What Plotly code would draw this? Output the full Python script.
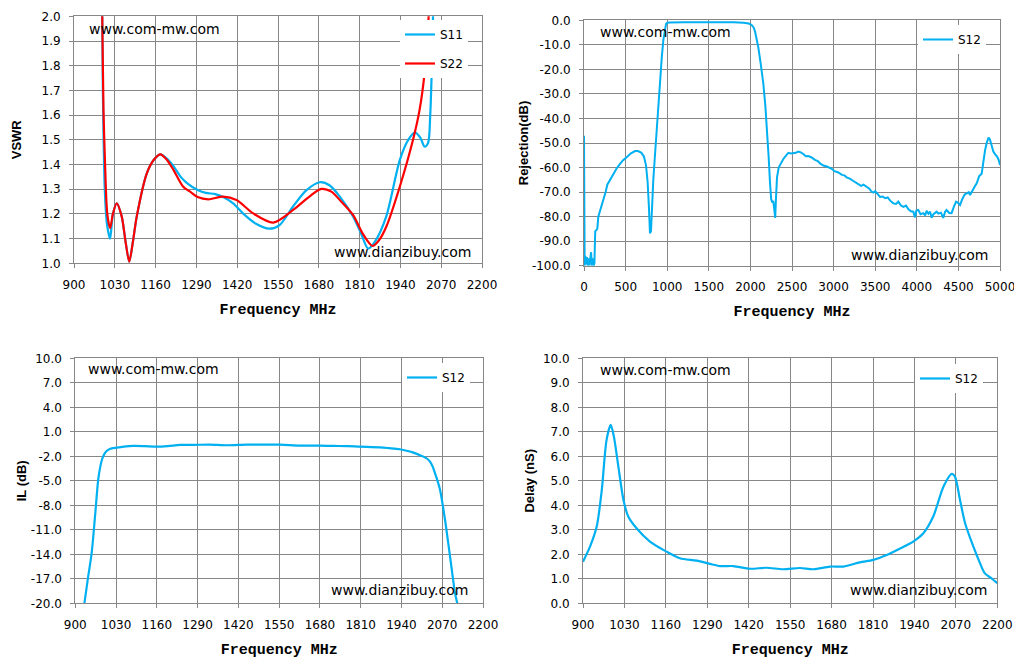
import plotly.graph_objects as go

# ---------------- data ----------------
# VSWR (top-left)
vswr_s11_freq = [988, 992, 998, 1005, 1015, 1024, 1036, 1052, 1064, 1076, 1088, 1100, 1132, 1155, 1175,
                 1195, 1216, 1240, 1260, 1294, 1320, 1350, 1375, 1407, 1440, 1480, 1522, 1555, 1598, 1640,
                 1683, 1715, 1747, 1789, 1815, 1837, 1860, 1895, 1938, 1965, 1986, 2003, 2017, 2028, 2035,
                 2039, 2044, 2050]
vswr_s11 = [2.3, 1.7, 1.3, 1.16, 1.10, 1.2, 1.243, 1.19, 1.09, 1.007, 1.09, 1.19, 1.364, 1.42, 1.441,
            1.425, 1.395, 1.35, 1.325, 1.297, 1.285, 1.28, 1.268, 1.243, 1.20, 1.16, 1.14, 1.155, 1.23, 1.295,
            1.328, 1.315, 1.27, 1.19, 1.12, 1.06, 1.09, 1.19, 1.418, 1.50, 1.529, 1.51, 1.472, 1.486, 1.60,
            1.742, 2.0, 2.3]
vswr_s22_freq = [986, 990, 994, 999, 1006, 1015, 1024, 1036, 1052, 1064, 1076, 1088, 1100, 1132, 1155,
                 1175, 1195, 1216, 1248, 1270, 1294, 1328, 1375, 1418, 1471, 1535, 1598, 1650, 1688, 1720,
                 1747, 1789, 1820, 1851, 1870, 1895, 1938, 1980, 2001, 2017, 2030, 2036]
vswr_s22 = [2.3, 2.0, 1.62, 1.4, 1.2, 1.142, 1.2, 1.243, 1.19, 1.09, 1.007, 1.09, 1.19, 1.364, 1.42,
            1.441, 1.42, 1.38, 1.31, 1.29, 1.268, 1.259, 1.27, 1.256, 1.202, 1.165, 1.216, 1.27, 1.301, 1.29,
            1.256, 1.196, 1.12, 1.07, 1.09, 1.148, 1.31, 1.499, 1.62, 1.77, 2.0, 2.2]

# Rejection (top-right)
rej_freq = [0, 8, 15, 25, 35, 45, 55, 65, 75, 85, 95, 105, 115, 125, 135, 150, 160, 172, 200, 232, 260,
            280, 312, 350, 390, 433, 470, 513, 560, 613, 650, 690, 720, 745, 765, 780, 793, 805, 815, 833,
            853, 873, 893, 913, 935, 954, 970, 986, 1000, 1034, 1200, 1514, 1800, 1915, 1980, 2015, 2040,
            2055, 2075, 2095, 2125, 2155, 2180, 2204, 2220, 2236, 2250, 2262, 2276, 2290, 2298, 2308, 2320,
            2340, 2370, 2396, 2430, 2456, 2490, 2516, 2545, 2576, 2605, 2636, 2665, 2696, 2730, 2776, 2810,
            2845, 2877, 2920, 2950, 2977, 3010, 3057, 3100, 3130, 3157, 3200, 3237, 3270, 3300, 3330, 3360,
            3397, 3430, 3455, 3478, 3500, 3530, 3558, 3590, 3620, 3650, 3680, 3718, 3750, 3778, 3810, 3840,
            3870, 3900, 3930, 3958, 3978, 3995, 4018, 4045, 4078, 4100, 4118, 4140, 4160, 4178, 4200, 4238,
            4260, 4290, 4318, 4340, 4358, 4390, 4418, 4445, 4472, 4500, 4520, 4545, 4575, 4600, 4625, 4640,
            4670, 4700, 4720, 4750, 4780, 4800, 4820, 4840, 4862, 4878, 4900, 4920, 4940, 4965, 4985, 5000]
rej_s12 = [-47, -100, -96, -99.5, -96.5, -100, -97, -100, -98, -94.5, -100, -97, -100, -99, -86, -85.5,
           -85, -80, -77, -73, -70, -67, -65, -62.5, -60.5, -58.5, -57, -55.8, -54.3, -53.3, -53.3, -54,
           -55.5, -59, -66, -76, -86.8, -86, -78, -65, -55, -45, -34, -25.7, -15, -8, -3.5, -1.5, -1.0,
           -0.9, -0.8, -0.7, -0.8, -1.0, -1.3, -1.9, -3.0, -4.5, -7.5, -11, -18, -25.7, -35, -46, -56,
           -66.4, -73, -74, -73.9, -78, -80.5, -72, -64, -60, -58, -56.5, -55, -54, -54.3, -54.2, -54,
           -53.5, -53.8, -54.5, -55.4, -55.3, -55.8, -56.9, -57.4, -58.5, -59.2, -59.6, -60, -60.5, -61.5,
           -62, -63, -63.2, -64, -64.6, -65.5, -66.2, -66.6, -67.5, -67, -68, -68.6, -69.8, -70.2, -69.6,
           -71, -72, -71.8, -72.5, -72.2, -73.5, -74.6, -74.8, -73.9, -75.5, -76, -75.5, -77, -77.8, -78,
           -80.3, -77.5, -77.3, -79, -78.6, -79.5, -77.6, -78.8, -78, -80.5, -79, -78, -78.8, -78.4, -80.5,
           -78, -77.3, -78.5, -78.6, -76, -73.9, -74.5, -75.3, -73, -71, -70.5, -70, -71.2, -69, -67.5,
           -66.4, -63.5, -62.5, -57, -53, -50, -47.8, -48.5, -51.5, -53.5, -54.5, -55.5, -57, -59]

# Insertion loss (bottom-left)
il_freq = [929, 940, 952, 963, 973, 980, 986, 993, 1000, 1010, 1021, 1050, 1085, 1120, 1159, 1195, 1234,
           1280, 1329, 1383, 1446, 1500, 1553, 1616, 1680, 1723, 1770, 1808, 1871, 1900, 1935, 1960, 1978,
           1995, 2010, 2022, 2031, 2040, 2047, 2055, 2063, 2079, 2095, 2111, 2118]
il_s12 = [-20, -17, -13.9, -9.3, -4.9, -3.2, -2.3, -1.7, -1.35, -1.1, -1.0, -0.85, -0.73, -0.75, -0.82,
          -0.75, -0.61, -0.6, -0.57, -0.65, -0.57, -0.56, -0.57, -0.69, -0.7, -0.73, -0.76, -0.82, -0.9,
          -1.0, -1.14, -1.35, -1.55, -1.8, -2.04, -2.3, -2.65, -3.3, -4.08, -5.0, -6.1, -9.8, -14.3, -18.8,
          -20]

# Group delay (bottom-right)
delay_freq = [900, 922, 943, 959, 974, 987, 997, 1011, 1027, 1042, 1068, 1110, 1162, 1204, 1257, 1298,
              1330, 1372, 1424, 1476, 1528, 1581, 1623, 1675, 1717, 1769, 1811, 1853, 1895, 1936, 1968,
              1999, 2031, 2057, 2067, 2083, 2099, 2125, 2146, 2161, 2182, 2200]
delay_s12 = [1.7, 2.31, 3.13, 4.63, 6.67, 7.28, 6.8, 5.58, 4.22, 3.54, 3.06, 2.52, 2.11, 1.84, 1.74, 1.61,
             1.52, 1.52, 1.41, 1.45, 1.39, 1.44, 1.39, 1.5, 1.5, 1.67, 1.77, 1.97, 2.24, 2.52, 2.86, 3.54,
             4.76, 5.28, 5.17, 4.22, 3.27, 2.31, 1.63, 1.22, 1.02, 0.82]

# tick values
freq_ticks = [900, 1030, 1160, 1290, 1420, 1550, 1680, 1810, 1940, 2070, 2200]
rej_freq_ticks = [0, 500, 1000, 1500, 2000, 2500, 3000, 3500, 4000, 4500, 5000]
vswr_ticks = [1.0, 1.1, 1.2, 1.3, 1.4, 1.5, 1.6, 1.7, 1.8, 1.9, 2.0]
rej_ticks = [0, -10, -20, -30, -40, -50, -60, -70, -80, -90, -100]
il_ticks = [10, 7, 4, 1, -2, -5, -8, -11, -14, -17, -20]
delay_ticks = [0, 1, 2, 3, 4, 5, 6, 7, 8, 9, 10]

# ---------------- styling ----------------
W, H = 1022, 666
OFF = 8  # page body margin offset
BLUE = "#00B0F0"
RED = "#FF0000"
GRID = "#878787"
TICKFONT = dict(family="DejaVu Sans", size=12, color="black")
XTITLEFONT = dict(family="Liberation Mono", size=15, color="black", weight="bold")
YTITLEFONT = dict(family="Liberation Sans", size=13, color="black", weight="bold")


def px_x(a, b):
    return [(a - OFF) / W, (b - OFF) / W]


def px_y(top, bottom):
    return [1 - (bottom - OFF) / H, 1 - (top - OFF) / H]


def labels(vals):
    return [f"{v:.1f}" for v in vals]


def axis_common(standoff):
    return dict(showgrid=True, gridcolor=GRID, gridwidth=1, showline=True, linecolor=GRID,
                linewidth=1, mirror=True, ticks="outside", ticklen=4, tickcolor=GRID,
                zeroline=False, tickfont=TICKFONT, fixedrange=True, automargin=False,
                ticklabelstandoff=standoff)


fig = go.Figure()

fig.add_trace(go.Scatter(x=vswr_s11_freq, y=vswr_s11, name="S11", mode="lines",
                         line=dict(color=BLUE, width=2.2, shape="spline", smoothing=0.8),
                         xaxis="x", yaxis="y", legend="legend", legendgroup="a"))
fig.add_trace(go.Scatter(x=vswr_s22_freq, y=vswr_s22, name="S22", mode="lines",
                         line=dict(color=RED, width=2.2, shape="spline", smoothing=0.8),
                         xaxis="x", yaxis="y", legend="legend", legendgroup="b"))
fig.add_trace(go.Scatter(x=rej_freq, y=rej_s12, name="S12", mode="lines",
                         line=dict(color=BLUE, width=2),
                         xaxis="x2", yaxis="y2", legend="legend2"))
fig.add_trace(go.Scatter(x=il_freq, y=il_s12, name="S12", mode="lines",
                         line=dict(color=BLUE, width=2.2, shape="spline", smoothing=0.8),
                         xaxis="x3", yaxis="y3", legend="legend3"))
fig.add_trace(go.Scatter(x=delay_freq, y=delay_s12, name="S12", mode="lines",
                         line=dict(color=BLUE, width=2.2, shape="spline", smoothing=0.8),
                         xaxis="x4", yaxis="y4", legend="legend4"))

xt_title = dict(text="Frequency MHz", font=XTITLEFONT, standoff=12)
XS, YS = 6, 6

fig.update_layout(
    width=W, height=H,
    margin=dict(l=0, r=0, t=0, b=0, autoexpand=False),
    paper_bgcolor="white", plot_bgcolor="white",
    font=dict(family="DejaVu Sans", color="black"),
    xaxis=dict(**axis_common(XS), domain=px_x(74, 482), range=[900, 2200], tickvals=freq_ticks,
               title=xt_title, anchor="y"),
    yaxis=dict(**axis_common(YS), domain=px_y(16.3, 263.3), range=[1.0, 2.0],
               tickvals=vswr_ticks, ticktext=labels(vswr_ticks), anchor="x",
               title=dict(text="VSWR", font=YTITLEFONT, standoff=16)),
    xaxis2=dict(**axis_common(XS), domain=px_x(584, 1000), range=[0, 5000], tickvals=rej_freq_ticks,
                title=xt_title, anchor="y2"),
    yaxis2=dict(**axis_common(YS), domain=px_y(20.3, 265.7), range=[-100, 0],
                tickvals=rej_ticks, ticktext=labels(rej_ticks), anchor="x2",
                title=dict(text="Rejection(dB)", font=YTITLEFONT, standoff=0)),
    xaxis3=dict(**axis_common(XS), domain=px_x(75.3, 483), range=[900, 2200], tickvals=freq_ticks,
                title=xt_title, anchor="y3"),
    yaxis3=dict(**axis_common(YS), domain=px_y(358.3, 603.3), range=[-20, 10],
                tickvals=il_ticks, ticktext=labels(il_ticks), anchor="x3",
                title=dict(text="IL (dB)", font=YTITLEFONT, standoff=1)),
    xaxis4=dict(**axis_common(XS), domain=px_x(583, 997.3), range=[900, 2200], tickvals=freq_ticks,
                title=xt_title, anchor="y4"),
    yaxis4=dict(**axis_common(YS), domain=px_y(358.3, 603.3), range=[0, 10],
                tickvals=delay_ticks, ticktext=labels(delay_ticks), anchor="x4",
                title=dict(text="Delay (nS)", font=YTITLEFONT, standoff=5)),
)

legend_common = dict(bgcolor="white", borderwidth=0, font=dict(family="DejaVu Sans", size=12, color="black"),
                     xanchor="left", yanchor="top", itemwidth=30, tracegroupgap=10)
fig.update_layout(
    legend=dict(**legend_common, x=(400 - OFF) / W, y=1 - (20 - OFF) / H),
    legend2=dict(**legend_common, x=(918 - OFF) / W, y=1 - (25 - OFF) / H),
    legend3=dict(**legend_common, x=(402 - OFF) / W, y=1 - (363 - OFF) / H),
    legend4=dict(**legend_common, x=(915 - OFF) / W, y=1 - (364 - OFF) / H),
)

# watermarks
WM = dict(family="DejaVu Sans", size=14, color="black")
marks = [
    (87, 29, "left", "www.com-mw.com"), (473, 252, "right", "www.dianzibuy.com"),
    (598, 32, "left", "www.com-mw.com"), (990, 255, "right", "www.dianzibuy.com"),
    (86, 369, "left", "www.com-mw.com"), (470, 590, "right", "www.dianzibuy.com"),
    (598, 370, "left", "www.com-mw.com"), (989, 590, "right", "www.dianzibuy.com"),
]
for xp, yp, anc, txt in marks:
    fig.add_annotation(x=(xp - OFF) / W, y=1 - (yp - OFF) / H, xref="paper", yref="paper", text=txt,
                       showarrow=False, xanchor=anc, yanchor="middle", font=WM)

fig.write_html("out.html")
